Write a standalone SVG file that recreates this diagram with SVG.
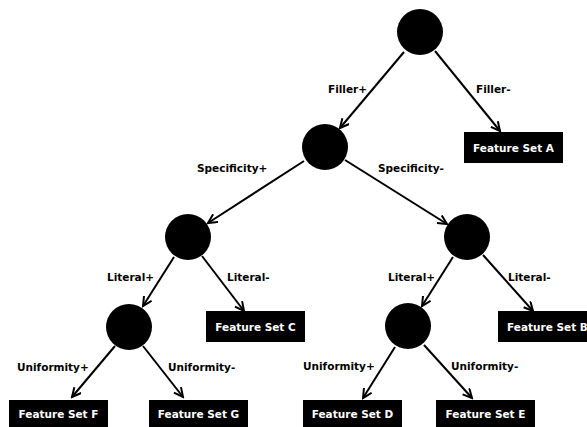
<svg xmlns="http://www.w3.org/2000/svg" width="587" height="427" viewBox="0 0 587 427">
<style>
.n{fill:#000}
.b{fill:#000}
.bt{fill:#fff;font-family:"DejaVu Sans",sans-serif;font-weight:bold;font-size:10.5px;text-anchor:middle;dominant-baseline:central}
.l{fill:#000;font-family:"DejaVu Sans",sans-serif;font-weight:bold;font-size:10.5px;dominant-baseline:central}
.e{stroke:#000;stroke-width:2;fill:none;marker-end:url(#a)}
</style>
<defs>
<marker id="a" markerWidth="12" markerHeight="12" refX="10" refY="5" orient="auto" markerUnits="userSpaceOnUse">
<path d="M1,0.5 L10,5 L1,9.5" fill="none" stroke="#000" stroke-width="2"/>
</marker>
</defs>
<rect width="587" height="427" fill="#fff"/>
<g id="connectors">
<line class="e" x1="404" y1="52" x2="340" y2="128"/>
<line class="e" x1="435" y1="51" x2="500" y2="131"/>
<line class="e" x1="304" y1="161" x2="208" y2="223"/>
<line class="e" x1="345" y1="160" x2="447" y2="224"/>
<line class="e" x1="174" y1="257" x2="143" y2="306"/>
<line class="e" x1="202" y1="256" x2="244" y2="311"/>
<line class="e" x1="453" y1="257" x2="422" y2="306"/>
<line class="e" x1="483" y1="255" x2="533" y2="311"/>
<line class="e" x1="395" y1="347" x2="363" y2="398"/>
<line class="e" x1="424" y1="345" x2="472" y2="398"/>
<line class="e" x1="115" y1="346" x2="72" y2="397"/>
<line class="e" x1="143" y1="346" x2="183" y2="397"/>
<text class="l" x="328" y="89">Filler+</text>
<text class="l" x="476" y="89">Filler-</text>
<text class="l" x="197" y="168">Specificity+</text>
<text class="l" x="378" y="168">Specificity-</text>
<text class="l" x="107" y="277">Literal+</text>
<text class="l" x="227" y="277">Literal-</text>
<text class="l" x="388" y="277">Literal+</text>
<text class="l" x="508" y="277">Literal-</text>
<text class="l" x="17" y="367">Uniformity+</text>
<text class="l" x="168" y="367">Uniformity-</text>
<text class="l" x="303" y="366">Uniformity+</text>
<text class="l" x="451" y="366">Uniformity-</text>
</g>
<g id="root"><circle class="n" cx="420" cy="32" r="23"/></g>
<g id="filler"><circle class="n" cx="325" cy="147" r="23"/></g>
<g id="specL"><circle class="n" cx="188" cy="237" r="23"/></g>
<g id="specR"><circle class="n" cx="467" cy="237" r="23"/></g>
<g id="litL"><circle class="n" cx="129" cy="327" r="23"/></g>
<g id="litR"><circle class="n" cx="408" cy="326" r="23"/></g>
<g id="fsA"><rect class="b" x="464" y="132" width="99" height="31"/><text class="bt" x="513.5" y="147.5">Feature Set A</text></g>
<g id="fsB"><rect class="b" x="498" y="311" width="99" height="31"/><text class="bt" x="547.5" y="326.5">Feature Set B</text></g>
<g id="fsC"><rect class="b" x="206" y="311" width="99" height="31"/><text class="bt" x="255.5" y="326.5">Feature Set C</text></g>
<g id="fsD"><rect class="b" x="303" y="400" width="99" height="31"/><text class="bt" x="352.5" y="413.5">Feature Set D</text></g>
<g id="fsE"><rect class="b" x="436" y="400" width="99" height="31"/><text class="bt" x="485.5" y="413.5">Feature Set E</text></g>
<g id="fsF"><rect class="b" x="9" y="400" width="99" height="31"/><text class="bt" x="58.5" y="413.5">Feature Set F</text></g>
<g id="fsG"><rect class="b" x="149" y="400" width="99" height="31"/><text class="bt" x="198.5" y="413.5">Feature Set G</text></g>
</svg>
